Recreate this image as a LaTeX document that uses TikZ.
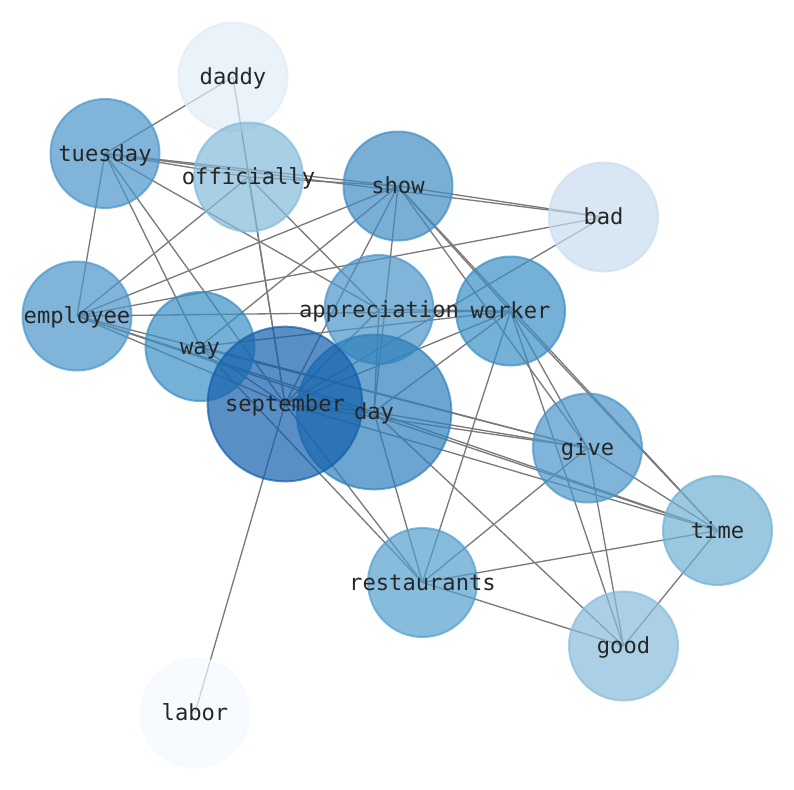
\documentclass[tikz,border=0pt]{standalone}
\usepackage{fontspec}
\newfontfamily\lblfont{DejaVu Sans Mono}
\pgfdeclarelayer{edgelayer}
\pgfsetlayers{edgelayer,main}
\definecolor{cLabor}{HTML}{F4F9FF}
\definecolor{cDaddy}{HTML}{E1ECF8}
\definecolor{cBad}{HTML}{C9DDF0}
\definecolor{cOff}{HTML}{84BADA}
\definecolor{cGood}{HTML}{87BCDB}
\definecolor{cTime}{HTML}{70B0D4}
\definecolor{cMid}{HTML}{4A95C9}
\definecolor{cShow}{HTML}{408BC3}
\definecolor{cWork}{HTML}{3B8EC4}
\definecolor{cRest}{HTML}{549FCE}
\definecolor{cSep}{HTML}{135FAB}
\definecolor{cDay}{HTML}{2D80BC}
\begin{document}
\begin{tikzpicture}[x=0.75pt,y=-0.75pt,
  vtx/.style={circle, inner sep=0pt, minimum size=81.75pt, line width=1.5pt,
              fill=#1, draw=#1, fill opacity=0.7, draw opacity=0.7},
  bigvtx/.style={vtx=#1, minimum size=116pt},
  lbl/.style={font=\lblfont\fontsize{16.6}{20}\selectfont, text=black!85, inner sep=0pt,
              text height=12.6pt, text depth=3.9pt, yshift=-1.5pt},
  edge/.style={draw=black!52, line width=1pt}]
\useasboundingbox (0,0) rectangle (794,790);
% nodes
\node[vtx=cDaddy] (daddy) at (233,77) {};
\node[vtx=cMid] (tuesday) at (105,153.5) {};
\node[vtx=cOff] (officially) at (248.5,177) {};
\node[vtx=cShow] (show) at (398,186) {};
\node[vtx=cBad] (bad) at (603.5,217) {};
\node[vtx=cMid] (employee) at (77,316) {};
\node[vtx=cMid] (appreciation) at (379,309.5) {};
\node[vtx=cWork] (worker) at (510.5,311) {};
\node[vtx=cWork] (way) at (200,346.5) {};
\node[bigvtx=cDay] (day) at (374,412) {};
\node[bigvtx=cSep] (september) at (285,404) {};
\node[vtx=cMid] (give) at (587.5,448) {};
\node[vtx=cTime] (time) at (717.5,530.5) {};
\node[vtx=cRest] (restaurants) at (422.5,582.5) {};
\node[vtx=cGood] (good) at (623.5,646) {};
\node[vtx=cLabor] (labor) at (195,713) {};
% edges
\begin{pgfonlayer}{edgelayer}
\foreach \a/\b in {tuesday/daddy, tuesday/officially, tuesday/show, tuesday/bad,
  tuesday/employee, tuesday/way, tuesday/september, tuesday/appreciation,
  daddy/september,
  officially/show, officially/employee, officially/appreciation, officially/september,
  show/bad, show/employee, show/way, show/september, show/day, show/worker, show/time, show/give,
  bad/employee, bad/september,
  employee/worker, employee/september, employee/day, employee/give, employee/time,
  way/worker, way/september, way/give, way/restaurants,
  appreciation/worker, appreciation/september, appreciation/day,
  worker/september, worker/day, worker/restaurants, worker/give, worker/time, worker/good,
  september/labor, september/day, september/give, september/time, september/restaurants,
  day/give, day/time, day/restaurants, day/good,
  give/restaurants, give/time, give/good,
  time/restaurants, time/good,
  restaurants/good}
  \draw[edge] (\a.center) -- (\b.center);
\end{pgfonlayer}
% labels
\foreach \n in {daddy,tuesday,officially,show,bad,employee,appreciation,worker,way,day,september,give,time,restaurants,good,labor}
  \node[lbl] (\n-l) at (\n.center) {\n};
\end{tikzpicture}
\end{document}
